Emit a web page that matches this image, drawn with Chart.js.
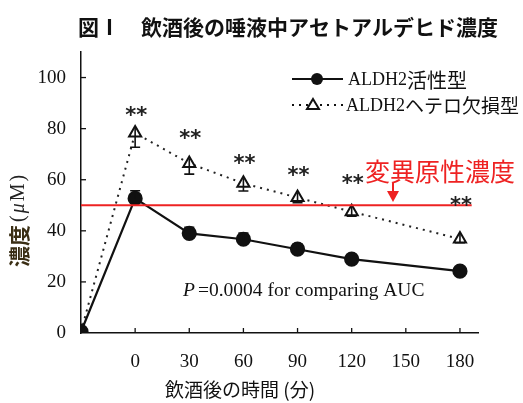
<!DOCTYPE html>
<html><head><meta charset="utf-8">
<script src="https://cdn.jsdelivr.net/npm/chart.js@4/dist/chart.umd.min.js"></script>
<style>html,body{margin:0;padding:0;background:#fff;}#wrap{width:523px;height:403px;}</style>
</head><body><div id="wrap"><canvas id="c" width="523" height="403"></canvas></div>
<script>
// ---- data ----
const times = [-30, 0, 30, 60, 90, 120, 180];
const activeMean = [0.5, 52.7, 39.0, 36.7, 32.8, 28.9, 24.2];
const activeSE   = [0, 3.0, 2.4, 2.4, 2.0, 1.8, 1.3];
const heteroMean = [0.5, 78.3, 66.4, 58.6, 53.0, 47.5, 36.8];
const heteroSE   = [0, 5.6, 4.2, 3.0, 2.0, 1.8, 1.5];
const starTimes  = [0, 30, 60, 90, 120, 180];
const starLevels = [87.3, 78.3, 68.5, 63.8, 60.7, 52.1];
const xTickValues = [0, 30, 60, 90, 120, 150, 180];
const yTickValues = [0, 20, 40, 60, 80, 100];
const mutagenicLevel = 50;
const seriesNames = ['ALDH2活性型', 'ALDH2ヘテロ欠損型'];

const SERIF = '"Liberation Serif", "Times New Roman", serif';
const CJK = '"Noto Sans CJK JP", "Noto Sans", sans-serif';

function mixedText(ctx, parts, x, y) {
  let cx = x;
  for (const p of parts) {
    ctx.font = p.font;
    ctx.fillStyle = p.color || '#111';
    ctx.fillText(p.text, cx, y);
    cx += ctx.measureText(p.text).width + (p.gap || 0);
  }
}

const overlay = {
  id: 'overlay',
  afterDatasetsDraw(chart) {
    const ctx = chart.ctx, xs = chart.scales.x, ys = chart.scales.y;
    const ca = chart.chartArea;
    ctx.save();
    // inward ticks
    ctx.strokeStyle = '#111'; ctx.lineWidth = 1.3;
    xTickValues.forEach(v => {
      const px = xs.getPixelForValue(v);
      ctx.beginPath(); ctx.moveTo(px, ca.bottom); ctx.lineTo(px, ca.bottom - 5); ctx.stroke();
    });
    yTickValues.forEach(v => {
      if (v === 0) return;
      const py = ys.getPixelForValue(v);
      ctx.beginPath(); ctx.moveTo(ca.left, py); ctx.lineTo(ca.left + 5, py); ctx.stroke();
    });
    // error bars
    ctx.strokeStyle = '#111'; ctx.lineWidth = 1.6;
    times.forEach((t, i) => {
      const px = xs.getPixelForValue(t);
      if (activeSE[i] > 0) {
        const y0 = ys.getPixelForValue(activeMean[i]);
        const y1 = ys.getPixelForValue(activeMean[i] + activeSE[i]);
        ctx.beginPath(); ctx.moveTo(px, y0); ctx.lineTo(px, y1);
        ctx.moveTo(px - 5, y1); ctx.lineTo(px + 5, y1); ctx.stroke();
      }
      if (heteroSE[i] > 0) {
        const y0 = ys.getPixelForValue(heteroMean[i]) - 5;
        const y1 = ys.getPixelForValue(heteroMean[i] - heteroSE[i]);
        ctx.beginPath(); ctx.moveTo(px, y0); ctx.lineTo(px, y1);
        ctx.moveTo(px - 5, y1); ctx.lineTo(px + 5, y1); ctx.stroke();
      }
    });
    // red mutagenic line
    const ry = ys.getPixelForValue(mutagenicLevel);
    ctx.strokeStyle = '#ee2222'; ctx.lineWidth = 2;
    ctx.beginPath(); ctx.moveTo(ca.left, ry); ctx.lineTo(xs.getPixelForValue(186.5), ry); ctx.stroke();
    // red label + arrow
    ctx.fillStyle = '#ee2222';
    ctx.font = '400 25px ' + CJK;
    ctx.textBaseline = 'middle'; ctx.textAlign = 'left';
    ctx.fillText('変異原性濃度', 365, 171);
    const ax = 393;
    ctx.lineWidth = 2;
    ctx.beginPath(); ctx.moveTo(ax, 183); ctx.lineTo(ax, 192); ctx.stroke();
    ctx.beginPath(); ctx.moveTo(ax - 6, 191); ctx.lineTo(ax + 6, 191); ctx.lineTo(ax, 202); ctx.closePath(); ctx.fill();
    // significance stars
    ctx.fillStyle = '#222';
    ctx.font = 'bold 21px "DejaVu Sans", sans-serif';
    ctx.textAlign = 'center'; ctx.textBaseline = 'alphabetic';
    starTimes.forEach((t, i) => {
      ctx.fillText('**', xs.getPixelForValue(t) + 1, ys.getPixelForValue(starLevels[i]) + 12);
    });
    // legend
    ctx.textAlign = 'left'; ctx.textBaseline = 'middle';
    const l1 = 79, l2 = 105;
    ctx.strokeStyle = '#111'; ctx.lineWidth = 2;
    ctx.beginPath(); ctx.moveTo(292, l1); ctx.lineTo(343, l1); ctx.stroke();
    ctx.fillStyle = '#111';
    ctx.beginPath(); ctx.arc(317, l1, 6, 0, Math.PI * 2); ctx.fill();
    ctx.setLineDash([2, 5]);
    ctx.beginPath(); ctx.moveTo(292, l2); ctx.lineTo(343, l2); ctx.stroke();
    ctx.setLineDash([]);
    ctx.fillStyle = '#fff'; ctx.lineWidth = 2;
    ctx.beginPath(); ctx.moveTo(313, l2 - 6); ctx.lineTo(319, l2 + 4); ctx.lineTo(307, l2 + 4); ctx.closePath(); ctx.fill(); ctx.stroke();
    mixedText(ctx, [{text: 'ALDH2', font: '18px ' + SERIF}, {text: seriesNames[0].slice(5), font: '20px ' + CJK}], 348, l1 + 1);
    mixedText(ctx, [{text: 'ALDH2', font: '18px ' + SERIF}, {text: seriesNames[1].slice(5), font: '19px ' + CJK}], 346, l2 + 1);
    // P text
    mixedText(ctx, [{text: 'P', font: 'italic 19.5px ' + SERIF, gap: 3}, {text: '=0.0004 for comparing AUC', font: '19.5px ' + SERIF}], 183, 291);
    // main title
    ctx.fillStyle = '#111';
    ctx.font = 'bold 21px ' + CJK;
    ctx.fillText('図Ⅰ', 78, 27);
    ctx.fillText('飲酒後の唾液中アセトアルデヒド濃度', 141, 27);
    // x-axis title
    ctx.font = '19px ' + CJK;
    ctx.textAlign = 'center';
    ctx.fillText('飲酒後の時間 (分)', 240, 390);
    // y-axis title (rotated)
    ctx.save();
    ctx.translate(19, 267);
    ctx.rotate(-Math.PI / 2);
    ctx.textAlign = 'left';
    mixedText(ctx, [
      {text: '濃度', font: 'bold 21px ' + CJK, color: '#3a2e14', gap: 3},
      {text: '(', font: '20px ' + SERIF, color: '#222', gap: 2},
      {text: 'μ', font: 'italic 20px ' + SERIF, color: '#222', gap: 2},
      {text: 'M', font: '20px ' + SERIF, color: '#222', gap: 2},
      {text: ')', font: '20px ' + SERIF, color: '#222'}
    ], 0, 0);
    ctx.restore();
    ctx.restore();
  }
};

new Chart(document.getElementById('c'), {
  type: 'line',
  data: {
    datasets: [
      {
        label: seriesNames[0],
        data: times.map((t, i) => ({x: t, y: activeMean[i]})),
        borderColor: '#111', backgroundColor: '#111', borderWidth: 2.2,
        pointStyle: 'circle', pointRadius: 6.5, pointBackgroundColor: '#111', pointBorderColor: '#111',
        tension: 0
      },
      {
        label: seriesNames[1],
        data: times.map((t, i) => ({x: t, y: heteroMean[i]})),
        borderColor: '#222', borderWidth: 2, borderDash: [2, 5],
        pointStyle: 'triangle', pointRadius: 7, pointBackgroundColor: '#fff', pointBorderColor: '#111', pointBorderWidth: 2,
        tension: 0
      }
    ]
  },
  options: {
    responsive: false, animation: false,
    layout: {padding: {left: 0, top: 52, right: 45, bottom: 0}},
    plugins: {legend: {display: false}, title: {display: false}, tooltip: {enabled: false}},
    scales: {
      x: {
        type: 'linear', min: -30, max: 190,
        afterFit: s => { s.height = 70; },
        afterBuildTicks: s => { s.ticks = xTickValues.map(v => ({value: v})); },
        grid: {display: false, drawTicks: false},
        border: {display: true, color: '#111', width: 1.5},
        ticks: {padding: 18, color: '#111', font: {family: SERIF, size: 19}, maxRotation: 0, autoSkip: false}
      },
      y: {
        type: 'linear', min: 0, max: 110,
        afterFit: s => { s.width = 81; },
        afterBuildTicks: s => { s.ticks = yTickValues.map(v => ({value: v})); },
        grid: {display: false, drawTicks: false},
        border: {display: true, color: '#111', width: 1.5},
        ticks: {padding: 15, color: '#111', font: {family: SERIF, size: 19}}
      }
    }
  },
  plugins: [overlay]
});
</script></body></html>
